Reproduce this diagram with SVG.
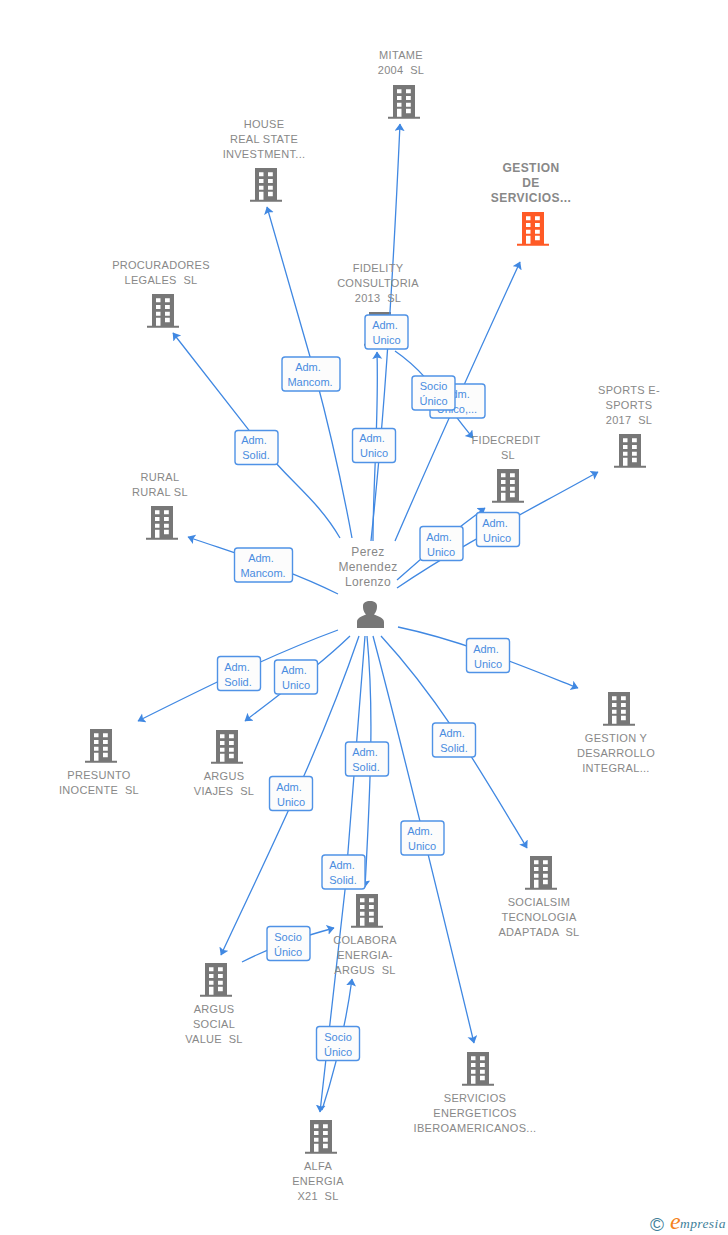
<svg xmlns="http://www.w3.org/2000/svg" width="728" height="1235" viewBox="0 0 728 1235">
<style>
text{font-family:"Liberation Sans",Arial,sans-serif;white-space:pre}
.n{font-size:11px;fill:#888;text-anchor:middle;letter-spacing:.3px}
.h{font-size:12px;fill:#888;font-weight:bold;text-anchor:middle;letter-spacing:.45px}
.p{font-size:12px;fill:#888;text-anchor:middle;letter-spacing:.4px}
.l{font-size:11px;fill:#4a8ce0;text-anchor:middle}
.b{fill:#fcfcfc;stroke:#4f92e6;stroke-width:1.4}
.e{fill:none;stroke:#4088e2;stroke-width:1.3;marker-end:url(#a)}
</style>
<defs>
<marker id="a" markerUnits="userSpaceOnUse" markerWidth="9" markerHeight="11" refX="7" refY="5" orient="auto"><path d="M0 0L7.500 5L0 10L1.500 5Z" fill="#4088e2"/></marker>
<symbol id="bld" viewBox="0 0 32 34" overflow="visible">
<path fill-rule="evenodd" fill="currentColor" d="M5 0H27V31.700H32V33.700H0V31.700H5ZM9 4.300V8.300H13.500V4.300ZM18 4.300V8.300H22.800V4.300ZM9 11V15H13.500V11ZM18 11V15H22.800V11ZM9 17.700V21.700H13.500V17.700ZM18 17.700V21.700H22.800V17.700ZM9 23.700V31.700H13.500V23.700ZM18 23.700V28.300H22.800V23.700Z"/>
</symbol>
</defs>
<g id="fidelity-icon" color="#777"><use href="#bld" x="364" y="312" width="32" height="34"/></g>
<g id="connectors">
<path class="e" d="M371 541C376 490 388 390 400 124"/>
<path class="e" d="M352 538C345 500 330 430 315 374L267 207"/>
<path class="e" d="M340 538C318 500 290 482 262 447L173 333"/>
<path class="e" d="M338 594C290 570 240 555 188 537"/>
<path class="e" d="M373 541C373 480 379 420 377 352"/>
<path class="e" d="M395 541C430 460 475 360 520 262"/>
<path class="e" d="M395 351C430 375 445 405 473 438"/>
<path class="e" d="M397 580C425 555 455 530 485 508"/>
<path class="e" d="M397 588C460 545 530 510 598 472"/>
<path class="e" d="M398 627C460 640 520 665 578 688"/>
<path class="e" d="M381 636C440 700 480 770 527 848"/>
<path class="e" d="M373 636C398 730 425 840 474 1043"/>
<path class="e" d="M367 636C373 700 372 760 365 887"/>
<path class="e" d="M365 636C360 700 352 800 345 890L320 1112"/>
<path class="e" d="M359 636C320 750 270 850 221 955"/>
<path class="e" d="M350 636C320 665 285 690 245 721"/>
<path class="e" d="M338 630C270 655 200 690 138 721"/>
<path class="e" d="M242 962C275 945 305 936 334 928"/>
<path class="e" d="M322 1110C335 1070 345 1030 352 979"/>
</g>
<g id="labels">
<g><rect class="b" x="430" y="384" width="55" height="34" rx="3"/><text class="l" x="457" y="398">Adm.</text><text class="l" x="457" y="413">Unico,...</text></g>
<g><rect class="b" x="412" y="376" width="43" height="34" rx="3"/><text class="l" x="433.500" y="390">Socio</text><text class="l" x="433.500" y="405">Único</text></g>
<g><rect class="b" x="365" y="315" width="43" height="34" rx="3"/><text class="l" x="385" y="329">Adm.</text><text class="l" x="386.500" y="344">Unico</text></g>
<g><rect class="b" x="352.500" y="428.500" width="43" height="34" rx="3"/><text class="l" x="372" y="442">Adm.</text><text class="l" x="374" y="457">Unico</text></g>
<g><rect class="b" x="282" y="357" width="58" height="34" rx="3"/><text class="l" x="308" y="371">Adm.</text><text class="l" x="310" y="386">Mancom.</text></g>
<g><rect class="b" x="235" y="430.500" width="43" height="34" rx="3"/><text class="l" x="254" y="444">Adm.</text><text class="l" x="256" y="459">Solid.</text></g>
<g><rect class="b" x="234.500" y="548" width="58" height="34" rx="3"/><text class="l" x="261" y="562">Adm.</text><text class="l" x="263" y="577">Mancom.</text></g>
<g><rect class="b" x="420" y="526.500" width="43" height="34" rx="3"/><text class="l" x="439" y="541">Adm.</text><text class="l" x="441" y="556">Unico</text></g>
<g><rect class="b" x="476.500" y="512.500" width="43" height="34" rx="3"/><text class="l" x="495" y="527">Adm.</text><text class="l" x="497" y="542">Unico</text></g>
<g><rect class="b" x="466.500" y="638.500" width="43" height="34" rx="3"/><text class="l" x="486" y="653">Adm.</text><text class="l" x="488" y="668">Unico</text></g>
<g><rect class="b" x="432.500" y="723" width="43" height="34" rx="3"/><text class="l" x="452" y="737">Adm.</text><text class="l" x="454" y="752">Solid.</text></g>
<g><rect class="b" x="401" y="821" width="43" height="34" rx="3"/><text class="l" x="420" y="835">Adm.</text><text class="l" x="422" y="850">Unico</text></g>
<g><rect class="b" x="345.500" y="742" width="43" height="34" rx="3"/><text class="l" x="365" y="756">Adm.</text><text class="l" x="366" y="771">Solid.</text></g>
<g><rect class="b" x="322" y="855" width="43" height="34" rx="3"/><text class="l" x="342" y="869">Adm.</text><text class="l" x="343" y="884">Solid.</text></g>
<g><rect class="b" x="269.500" y="776.500" width="43" height="34" rx="3"/><text class="l" x="289" y="791">Adm.</text><text class="l" x="291" y="806">Unico</text></g>
<g><rect class="b" x="274.500" y="660" width="43" height="34" rx="3"/><text class="l" x="294" y="674">Adm.</text><text class="l" x="296" y="689">Unico</text></g>
<g><rect class="b" x="217.500" y="656.500" width="43" height="34" rx="3"/><text class="l" x="237" y="671">Adm.</text><text class="l" x="238" y="686">Solid.</text></g>
<g><rect class="b" x="267" y="926.500" width="43" height="34" rx="3"/><text class="l" x="288" y="941">Socio</text><text class="l" x="288" y="956">Único</text></g>
<g><rect class="b" x="316.500" y="1026.500" width="43" height="34" rx="3"/><text class="l" x="338" y="1041">Socio</text><text class="l" x="338" y="1056">Único</text></g>
</g>
<g id="person">
<text class="p" x="368" y="556">Perez</text><text class="p" x="368" y="571">Menendez</text><text class="p" x="368" y="586">Lorenzo</text>
<path fill="#777" d="M357 628V622C357 618 361 616.500 366 614.500C363 611 363 608 363 606C363 602.500 366 601 370 601C374 601 377 602.500 377 606C377 608 377 611 374 614.500C379 616.500 384 618 384 622V628Z"/>
</g>
<g id="mitame" color="#777"><text class="n" x="401" y="59">MITAME</text><text class="n" x="401" y="74">2004  SL</text><use href="#bld" x="388" y="85" width="32" height="34"/></g>
<g id="house" color="#777"><text class="n" x="264" y="128">HOUSE</text><text class="n" x="264" y="143">REAL STATE</text><text class="n" x="264" y="158">INVESTMENT...</text><use href="#bld" x="250" y="168" width="32" height="34"/></g>
<g id="gestion" color="#ff5a26"><text class="h" x="531" y="172">GESTION</text><text class="h" x="531" y="187">DE</text><text class="h" x="531" y="202">SERVICIOS...</text><use href="#bld" x="517" y="212" width="32" height="34"/></g>
<g id="procuradores" color="#777"><text class="n" x="161" y="269">PROCURADORES</text><text class="n" x="161" y="284">LEGALES  SL</text><use href="#bld" x="147" y="294" width="32" height="34"/></g>
<g id="fidelity" color="#777"><text class="n" x="378" y="272">FIDELITY</text><text class="n" x="378" y="287">CONSULTORIA</text><text class="n" x="378" y="302">2013  SL</text></g>
<g id="sports" color="#777"><text class="n" x="629" y="394">SPORTS E-</text><text class="n" x="629" y="409">SPORTS</text><text class="n" x="629" y="424">2017  SL</text><use href="#bld" x="614" y="434" width="32" height="34"/></g>
<g id="fidecredit" color="#777"><text class="n" x="506" y="444">FIDECREDIT</text><text class="n" x="508" y="459">SL</text><use href="#bld" x="492" y="469" width="32" height="34"/></g>
<g id="rural" color="#777"><text class="n" x="160" y="481">RURAL</text><text class="n" x="160" y="496">RURAL SL</text><use href="#bld" x="146" y="506" width="32" height="34"/></g>
<g id="gestion-y" color="#777"><use href="#bld" x="603" y="692" width="32" height="34"/><text class="n" x="616" y="742">GESTION Y</text><text class="n" x="616" y="757">DESARROLLO</text><text class="n" x="616" y="772">INTEGRAL...</text></g>
<g id="presunto" color="#777"><use href="#bld" x="85" y="729" width="32" height="34"/><text class="n" x="99" y="779">PRESUNTO</text><text class="n" x="99" y="794">INOCENTE  SL</text></g>
<g id="viajes" color="#777"><use href="#bld" x="211" y="730" width="32" height="34"/><text class="n" x="224" y="780">ARGUS</text><text class="n" x="224" y="795">VIAJES  SL</text></g>
<g id="socialsim" color="#777"><use href="#bld" x="525" y="856" width="32" height="34"/><text class="n" x="539" y="906">SOCIALSIM</text><text class="n" x="539" y="921">TECNOLOGIA</text><text class="n" x="539" y="936">ADAPTADA  SL</text></g>
<g id="colabora" color="#777"><use href="#bld" x="351" y="894" width="32" height="34"/><text class="n" x="365" y="944">COLABORA</text><text class="n" x="365" y="959">ENERGIA-</text><text class="n" x="365" y="974">ARGUS  SL</text></g>
<g id="argus-social" color="#777"><use href="#bld" x="200" y="963" width="32" height="34"/><text class="n" x="214" y="1013">ARGUS</text><text class="n" x="214" y="1028">SOCIAL</text><text class="n" x="214" y="1043">VALUE  SL</text></g>
<g id="servicios" color="#777"><use href="#bld" x="462" y="1052" width="32" height="34"/><text class="n" x="475" y="1102">SERVICIOS</text><text class="n" x="475" y="1117">ENERGETICOS</text><text class="n" x="475" y="1132">IBEROAMERICANOS...</text></g>
<g id="alfa" color="#777"><use href="#bld" x="305" y="1120" width="32" height="34"/><text class="n" x="318" y="1170">ALFA</text><text class="n" x="318" y="1185">ENERGIA</text><text class="n" x="318" y="1200">X21  SL</text></g>
<g id="logo"><text x="650" y="1231" style="font-size:19px;fill:#3f7f9a">©</text><text x="670" y="1229" style="font-size:24px;font-family:'Liberation Serif',serif;font-style:italic;fill:#f58220">e</text><text x="680" y="1228" style="font-size:13.500px;font-family:'Liberation Serif',serif;font-style:italic;fill:#3f7f9a;letter-spacing:.4px">mpresia</text></g>
</svg>
